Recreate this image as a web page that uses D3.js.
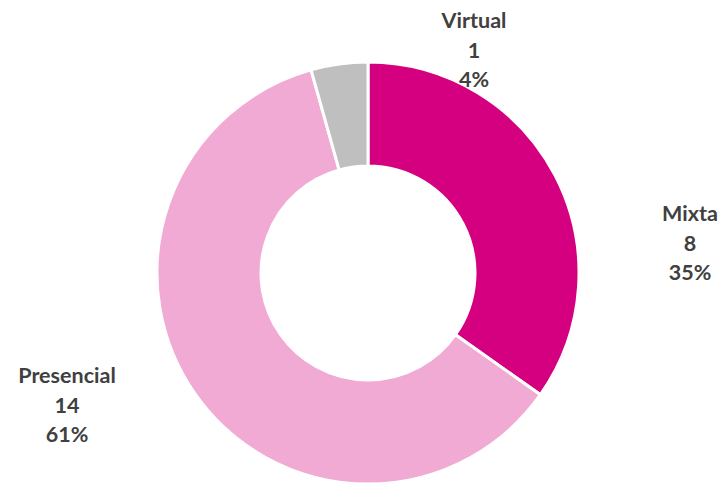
<!DOCTYPE html>
<html><head><meta charset="utf-8">
<script src="https://cdn.jsdelivr.net/npm/d3@7"></script>
<style>html,body{margin:0;padding:0;background:#fff;}</style>
</head><body>
<svg id="chart" width="722" height="483"></svg>
<script>
const categories = ["Mixta", "Presencial", "Virtual"];
const values = [8, 14, 1];
const percentLabels = ["35%", "61%", "4%"];
const colors = ["#D5007F", "#F0AAD4", "#BFBFBF"];

// label layout (anchor centre x, first baseline y)
const labelPos = {Mixta: [690, 221], Presencial: [67, 383], Virtual: [474, 28]};

const svg = d3.select("#chart");
const cx = 368, cy = 273, outerR = 211, innerR = 107;
const data = categories.map((c, i) => ({cat: c, value: values[i], pct: percentLabels[i], color: colors[i]}));
const pie = d3.pie().value(d => d.value).sort(null);
const arc = d3.arc().innerRadius(innerR).outerRadius(outerR);
const g = svg.append("g").attr("transform", `translate(${cx},${cy})`);
g.selectAll("path").data(pie(data)).join("path")
  .attr("d", arc).attr("fill", d => d.data.color)
  .attr("stroke", "#fff").attr("stroke-width", 3);

const lbl = svg.append("g").attr("font-family", "Lato, 'Open Sans', sans-serif")
  .attr("font-weight", "bold").attr("font-size", 21.5).attr("fill", "#404040")
  .attr("text-anchor", "middle");
data.forEach(d => {
  const [x, y] = labelPos[d.cat];
  const t = lbl.append("text").attr("x", x).attr("y", y);
  [d.cat, String(d.value), d.pct].forEach((s, i) => {
    t.append("tspan").attr("x", x).attr("dy", i === 0 ? 0 : 29.5).text(s);
  });
});
</script>
</body></html>
